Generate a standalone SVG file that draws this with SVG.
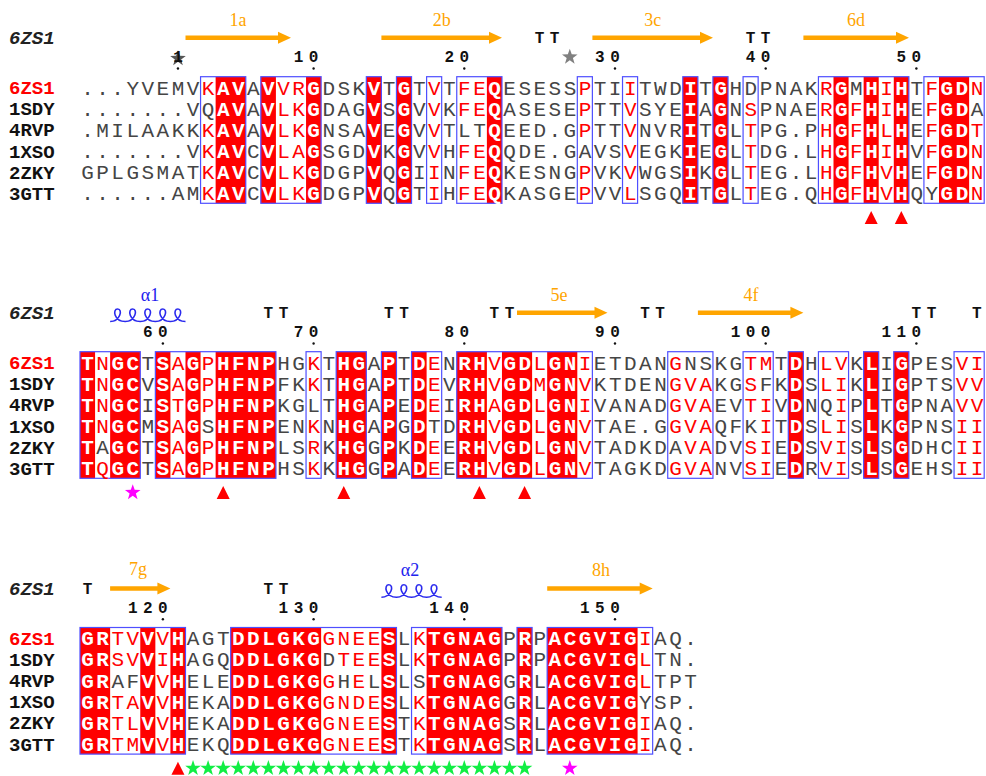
<svg xmlns="http://www.w3.org/2000/svg" xmlns:xlink="http://www.w3.org/1999/xlink" width="986" height="776" viewBox="0 0 986 776">
<style>
.seq{font-family:'Liberation Mono',monospace;font-size:21px;letter-spacing:2.47px}
.g{fill:#454545}
.r{fill:#ff0000}
.w{fill:#ffffff;font-weight:bold}
.nm{font-family:'Liberation Mono',monospace;font-size:19px;font-weight:bold;fill:#111}
.nm.red{fill:#ff0000}
.top{font-family:'Liberation Mono',monospace;font-size:19px;font-weight:bold;font-style:italic;fill:#222}
.num{font-family:'Liberation Mono',monospace;font-size:16px;font-weight:bold;letter-spacing:5.47px;fill:#111}
.ssl{font-family:'Liberation Serif',serif;font-size:18px;fill:#ffa500;text-anchor:middle}
.hxl{font-family:'Liberation Serif',serif;font-size:18px;fill:#2222ee;text-anchor:middle}
.rf{fill:#ff0000}
.bx{fill:none;stroke:#4f4fff;stroke-width:1.2}
.arr{fill:#ffa500}
.coil{fill:none;stroke:#2a2aee;stroke-width:1.6}
.dot{fill:#111}
</style>
<defs>
<polygon id="star" points="0,-8.2 1.93,-2.65 7.8,-2.53 3.12,1.01 4.82,6.63 0,3.28 -4.82,6.63 -3.12,1.01 -7.8,-2.53 -1.93,-2.65"/>
<polygon id="tri" points="0,-6.5 6.5,6.5 -6.5,6.5"/>
</defs>
<rect width="986" height="776" fill="#ffffff"/>

<g id="block1">
<g id="b1-fill">
<rect class="rf" x="215.63" y="76.7" width="30.14" height="126.6"/>
<rect class="rf" x="260.84" y="76.7" width="15.07" height="126.6"/>
<rect class="rf" x="306.05" y="76.7" width="15.07" height="126.6"/>
<rect class="rf" x="366.33" y="76.7" width="15.07" height="126.6"/>
<rect class="rf" x="396.47" y="76.7" width="15.07" height="126.6"/>
<rect class="rf" x="486.89" y="76.7" width="15.07" height="126.6"/>
<rect class="rf" x="682.8" y="76.7" width="15.07" height="126.6"/>
<rect class="rf" x="712.94" y="76.7" width="15.07" height="126.6"/>
<rect class="rf" x="833.5" y="76.7" width="15.07" height="126.6"/>
<rect class="rf" x="863.64" y="76.7" width="15.07" height="126.6"/>
<rect class="rf" x="893.78" y="76.7" width="15.07" height="126.6"/>
<rect class="rf" x="938.99" y="76.7" width="30.14" height="126.6"/>
</g>
<g id="b1-boxes">
<rect class="bx" x="200.56" y="76.7" width="45.21" height="126.6"/>
<rect class="bx" x="260.84" y="76.7" width="60.28" height="126.6"/>
<rect class="bx" x="366.33" y="76.7" width="15.07" height="126.6"/>
<rect class="bx" x="396.47" y="76.7" width="15.07" height="126.6"/>
<rect class="bx" x="426.61" y="76.7" width="15.07" height="126.6"/>
<rect class="bx" x="456.75" y="76.7" width="45.21" height="126.6"/>
<rect class="bx" x="577.31" y="76.7" width="15.07" height="126.6"/>
<rect class="bx" x="622.52" y="76.7" width="15.07" height="126.6"/>
<rect class="bx" x="682.8" y="76.7" width="15.07" height="126.6"/>
<rect class="bx" x="712.94" y="76.7" width="15.07" height="126.6"/>
<rect class="bx" x="743.08" y="76.7" width="15.07" height="126.6"/>
<rect class="bx" x="818.43" y="76.7" width="90.42" height="126.6"/>
<rect class="bx" x="923.92" y="76.7" width="60.28" height="126.6"/>
</g>
<g id="b1-ss">
<text class="top" x="9" y="44">6ZS1</text>
<polygon class="arr" points="185.5,35.5 278,35.5 278,31.7 291,37.7 278,43.7 278,39.9 185.5,39.9"/>
<text class="ssl" x="238" y="26">1a</text>
<polygon class="arr" points="381.4,35.5 489,35.5 489,31.7 502,37.7 489,43.7 489,39.9 381.4,39.9"/>
<text class="ssl" x="441.7" y="26">2b</text>
<polygon class="arr" points="592.4,35.5 700,35.5 700,31.7 713,37.7 700,43.7 700,39.9 592.4,39.9"/>
<text class="ssl" x="652.7" y="26">3c</text>
<polygon class="arr" points="803.4,35.5 896,35.5 896,31.7 909,37.7 896,43.7 896,39.9 803.4,39.9"/>
<text class="ssl" x="856" y="26">6d</text>
<text class="num" x="534.8" y="43">TT</text>
<text class="num" x="745.8" y="43">TT</text>
</g>
<g id="b1-num">
<use href="#star" x="178" y="58.5" fill="#555555"/>
<use href="#star" x="569.8" y="57" fill="#808080"/>
<text class="num" x="173.2" y="62.3">1</text>
<text class="num" x="293.7" y="62.3">10</text>
<text class="num" x="444.4" y="62.3">20</text>
<text class="num" x="595.1" y="62.3">30</text>
<text class="num" x="745.8" y="62.3">40</text>
<text class="num" x="896.5" y="62.3">50</text>
<circle class="dot" cx="177.96" cy="68.5" r="1.2"/>
<circle class="dot" cx="313.59" cy="68.5" r="1.2"/>
<circle class="dot" cx="464.29" cy="68.5" r="1.2"/>
<circle class="dot" cx="614.99" cy="68.5" r="1.2"/>
<circle class="dot" cx="765.69" cy="68.5" r="1.2"/>
<circle class="dot" cx="916.39" cy="68.5" r="1.2"/>
</g>
<g id="b1-names">
<text class="nm red" x="9" y="94.25">6ZS1</text>
<text class="nm" x="9" y="115.35">1SDY</text>
<text class="nm" x="9" y="136.45">4RVP</text>
<text class="nm" x="9" y="157.55">1XSO</text>
<text class="nm" x="9" y="178.65">2ZKY</text>
<text class="nm" x="9" y="199.75">3GTT</text>
</g>
<g id="b1-seq">
<text class="seq g" x="81.23" y="94.6">...YVEMV<tspan class="r">K</tspan><tspan class="w">AV</tspan>A<tspan class="w">V</tspan><tspan class="r">VR</tspan><tspan class="w">G</tspan>DSK<tspan class="w">V</tspan>T<tspan class="w">G</tspan>T<tspan class="r">V</tspan>T<tspan class="r">FE</tspan><tspan class="w">Q</tspan>ESESS<tspan class="r">P</tspan>TI<tspan class="r">I</tspan>TWD<tspan class="w">I</tspan>T<tspan class="w">G</tspan>HDPNAK<tspan class="r">R</tspan><tspan class="w">G</tspan>M<tspan class="w">H</tspan><tspan class="r">I</tspan><tspan class="w">H</tspan>T<tspan class="r">F</tspan><tspan class="w">GD</tspan><tspan class="r">N</tspan></text>
<text class="seq g" x="81.23" y="115.7">.......VQ<tspan class="w">AV</tspan>A<tspan class="w">V</tspan><tspan class="r">LK</tspan><tspan class="w">G</tspan>DAG<tspan class="w">V</tspan>S<tspan class="w">G</tspan>V<tspan class="r">V</tspan>K<tspan class="r">FE</tspan><tspan class="w">Q</tspan>ASESE<tspan class="r">P</tspan>TT<tspan class="r">V</tspan>SYE<tspan class="w">I</tspan>A<tspan class="w">G</tspan>N<tspan class="r">S</tspan>PNAE<tspan class="r">R</tspan><tspan class="w">G</tspan><tspan class="r">F</tspan><tspan class="w">H</tspan><tspan class="r">I</tspan><tspan class="w">H</tspan>E<tspan class="r">F</tspan><tspan class="w">GD</tspan>A</text>
<text class="seq g" x="81.23" y="136.8">.MILAAKK<tspan class="r">K</tspan><tspan class="w">AV</tspan>A<tspan class="w">V</tspan><tspan class="r">LK</tspan><tspan class="w">G</tspan>NSA<tspan class="w">V</tspan>E<tspan class="w">G</tspan>V<tspan class="r">V</tspan>TLT<tspan class="w">Q</tspan>EED.G<tspan class="r">P</tspan>TT<tspan class="r">V</tspan>NVR<tspan class="w">I</tspan>T<tspan class="w">G</tspan>L<tspan class="r">T</tspan>PG.P<tspan class="r">H</tspan><tspan class="w">G</tspan><tspan class="r">F</tspan><tspan class="w">H</tspan><tspan class="r">L</tspan><tspan class="w">H</tspan>E<tspan class="r">F</tspan><tspan class="w">GD</tspan><tspan class="r">T</tspan></text>
<text class="seq g" x="81.23" y="157.9">.......V<tspan class="r">K</tspan><tspan class="w">AV</tspan>C<tspan class="w">V</tspan><tspan class="r">LA</tspan><tspan class="w">G</tspan>SGD<tspan class="w">V</tspan>K<tspan class="w">G</tspan>V<tspan class="r">V</tspan>H<tspan class="r">FE</tspan><tspan class="w">Q</tspan>QDE.GAVS<tspan class="r">V</tspan>EGK<tspan class="w">I</tspan>E<tspan class="w">G</tspan>L<tspan class="r">T</tspan>DG.L<tspan class="r">H</tspan><tspan class="w">G</tspan><tspan class="r">F</tspan><tspan class="w">H</tspan><tspan class="r">I</tspan><tspan class="w">H</tspan>V<tspan class="r">F</tspan><tspan class="w">GD</tspan><tspan class="r">N</tspan></text>
<text class="seq g" x="81.23" y="179">GPLGSMAT<tspan class="r">K</tspan><tspan class="w">AV</tspan>C<tspan class="w">V</tspan><tspan class="r">LK</tspan><tspan class="w">G</tspan>DGP<tspan class="w">V</tspan>Q<tspan class="w">G</tspan>I<tspan class="r">I</tspan>N<tspan class="r">FE</tspan><tspan class="w">Q</tspan>KESNG<tspan class="r">P</tspan>VK<tspan class="r">V</tspan>WGS<tspan class="w">I</tspan>K<tspan class="w">G</tspan>L<tspan class="r">T</tspan>EG.L<tspan class="r">H</tspan><tspan class="w">G</tspan><tspan class="r">F</tspan><tspan class="w">H</tspan><tspan class="r">V</tspan><tspan class="w">H</tspan>E<tspan class="r">F</tspan><tspan class="w">GD</tspan><tspan class="r">N</tspan></text>
<text class="seq g" x="81.23" y="200.1">......AM<tspan class="r">K</tspan><tspan class="w">AV</tspan>C<tspan class="w">V</tspan><tspan class="r">LK</tspan><tspan class="w">G</tspan>DGP<tspan class="w">V</tspan>Q<tspan class="w">G</tspan>T<tspan class="r">I</tspan>H<tspan class="r">FE</tspan><tspan class="w">Q</tspan>KASGE<tspan class="r">P</tspan>VV<tspan class="r">L</tspan>SGQ<tspan class="w">I</tspan>T<tspan class="w">G</tspan>L<tspan class="r">T</tspan>EG.Q<tspan class="r">H</tspan><tspan class="w">G</tspan><tspan class="r">F</tspan><tspan class="w">H</tspan><tspan class="r">V</tspan><tspan class="w">H</tspan>QY<tspan class="w">GD</tspan><tspan class="r">N</tspan></text>
</g>
<g id="b1-marks">
<use href="#tri" x="871.18" y="217.5" fill="#ff0000"/>
<use href="#tri" x="901.32" y="217.5" fill="#ff0000"/>
</g>
</g>

<g id="block2" transform="translate(0,275)">
<g id="b2-fill">
<rect class="rf" x="80" y="76.7" width="15.07" height="126.6"/>
<rect class="rf" x="110.14" y="76.7" width="30.14" height="126.6"/>
<rect class="rf" x="155.35" y="76.7" width="15.07" height="126.6"/>
<rect class="rf" x="185.49" y="76.7" width="15.07" height="126.6"/>
<rect class="rf" x="215.63" y="76.7" width="60.28" height="126.6"/>
<rect class="rf" x="336.19" y="76.7" width="30.14" height="126.6"/>
<rect class="rf" x="381.4" y="76.7" width="15.07" height="126.6"/>
<rect class="rf" x="411.54" y="76.7" width="15.07" height="126.6"/>
<rect class="rf" x="456.75" y="76.7" width="30.14" height="126.6"/>
<rect class="rf" x="501.96" y="76.7" width="30.14" height="126.6"/>
<rect class="rf" x="547.17" y="76.7" width="30.14" height="126.6"/>
<rect class="rf" x="788.29" y="76.7" width="15.07" height="126.6"/>
<rect class="rf" x="863.64" y="76.7" width="15.07" height="126.6"/>
<rect class="rf" x="893.78" y="76.7" width="15.07" height="126.6"/>
</g>
<g id="b2-boxes">
<rect class="bx" x="80" y="76.7" width="60.28" height="126.6"/>
<rect class="bx" x="155.35" y="76.7" width="120.56" height="126.6"/>
<rect class="bx" x="306.05" y="76.7" width="15.07" height="126.6"/>
<rect class="bx" x="336.19" y="76.7" width="30.14" height="126.6"/>
<rect class="bx" x="381.4" y="76.7" width="15.07" height="126.6"/>
<rect class="bx" x="411.54" y="76.7" width="30.14" height="126.6"/>
<rect class="bx" x="456.75" y="76.7" width="135.63" height="126.6"/>
<rect class="bx" x="667.73" y="76.7" width="45.21" height="126.6"/>
<rect class="bx" x="743.08" y="76.7" width="30.14" height="126.6"/>
<rect class="bx" x="788.29" y="76.7" width="15.07" height="126.6"/>
<rect class="bx" x="818.43" y="76.7" width="30.14" height="126.6"/>
<rect class="bx" x="863.64" y="76.7" width="15.07" height="126.6"/>
<rect class="bx" x="893.78" y="76.7" width="15.07" height="126.6"/>
<rect class="bx" x="954.06" y="76.7" width="30.14" height="126.6"/>
</g>
<g id="b2-ss">
<text class="top" x="9" y="44">6ZS1</text>
<text class="hxl" x="150" y="26">α1</text>
<path class="coil" d="M110.14,46.5 C120.14,46.5 123.14,34 117.64,34 C112.14,34 114.14,46.5 125.21,46.5 C135.21,46.5 138.21,34 132.71,34 C127.21,34 129.21,46.5 140.28,46.5 C150.28,46.5 153.28,34 147.78,34 C142.28,34 144.28,46.5 155.35,46.5 C165.35,46.5 168.35,34 162.85,34 C157.35,34 159.35,46.5 170.42,46.5 C180.42,46.5 183.42,34 177.92,34 C172.42,34 174.42,46.5 185.49,46.5"/>
<text class="num" x="263.6" y="43">TT</text>
<text class="num" x="384.1" y="43">TT</text>
<text class="num" x="489.6" y="43">TT</text>
<polygon class="arr" points="517,35.5 594.5,35.5 594.5,31.7 607.5,37.7 594.5,43.7 594.5,39.9 517,39.9"/>
<text class="ssl" x="559" y="26">5e</text>
<text class="num" x="640.3" y="43">TT</text>
<polygon class="arr" points="697.9,35.5 790.4,35.5 790.4,31.7 803.4,37.7 790.4,43.7 790.4,39.9 697.9,39.9"/>
<text class="ssl" x="751" y="26">4f</text>
<text class="num" x="911.6" y="43">TT</text>
<text class="num" x="971.9" y="43">T</text>
</g>
<g id="b2-num">
<text class="num" x="143" y="62.3">60</text>
<text class="num" x="293.7" y="62.3">70</text>
<text class="num" x="444.4" y="62.3">80</text>
<text class="num" x="595.1" y="62.3">90</text>
<text class="num" x="730.7" y="62.3">100</text>
<text class="num" x="881.4" y="62.3">110</text>
<circle class="dot" cx="162.89" cy="68.5" r="1.2"/>
<circle class="dot" cx="313.59" cy="68.5" r="1.2"/>
<circle class="dot" cx="464.29" cy="68.5" r="1.2"/>
<circle class="dot" cx="614.99" cy="68.5" r="1.2"/>
<circle class="dot" cx="765.69" cy="68.5" r="1.2"/>
<circle class="dot" cx="916.39" cy="68.5" r="1.2"/>
</g>
<g id="b2-names">
<text class="nm red" x="9" y="94.25">6ZS1</text>
<text class="nm" x="9" y="115.35">1SDY</text>
<text class="nm" x="9" y="136.45">4RVP</text>
<text class="nm" x="9" y="157.55">1XSO</text>
<text class="nm" x="9" y="178.65">2ZKY</text>
<text class="nm" x="9" y="199.75">3GTT</text>
</g>
<g id="b2-seq">
<text class="seq g" x="81.23" y="94.6"><tspan class="w">T</tspan><tspan class="r">N</tspan><tspan class="w">GC</tspan>T<tspan class="w">S</tspan><tspan class="r">A</tspan><tspan class="w">G</tspan><tspan class="r">P</tspan><tspan class="w">HFNP</tspan>HG<tspan class="r">K</tspan>T<tspan class="w">HG</tspan>A<tspan class="w">P</tspan>T<tspan class="w">D</tspan><tspan class="r">E</tspan>N<tspan class="w">RH</tspan><tspan class="r">V</tspan><tspan class="w">GD</tspan><tspan class="r">L</tspan><tspan class="w">GN</tspan><tspan class="r">I</tspan>ETDAN<tspan class="r">G</tspan>NSKG<tspan class="r">TM</tspan>T<tspan class="w">D</tspan>H<tspan class="r">LV</tspan>K<tspan class="w">L</tspan>I<tspan class="w">G</tspan>PES<tspan class="r">VI</tspan></text>
<text class="seq g" x="81.23" y="115.7"><tspan class="w">T</tspan><tspan class="r">N</tspan><tspan class="w">GC</tspan>V<tspan class="w">S</tspan><tspan class="r">A</tspan><tspan class="w">G</tspan><tspan class="r">P</tspan><tspan class="w">HFNP</tspan>FK<tspan class="r">K</tspan>T<tspan class="w">HG</tspan>A<tspan class="w">P</tspan>T<tspan class="w">D</tspan><tspan class="r">E</tspan>V<tspan class="w">RH</tspan><tspan class="r">V</tspan><tspan class="w">GD</tspan><tspan class="r">M</tspan><tspan class="w">GN</tspan><tspan class="r">V</tspan>KTDEN<tspan class="r">GVA</tspan>KG<tspan class="r">S</tspan>FK<tspan class="w">D</tspan>S<tspan class="r">LI</tspan>K<tspan class="w">L</tspan>I<tspan class="w">G</tspan>PTS<tspan class="r">VV</tspan></text>
<text class="seq g" x="81.23" y="136.8"><tspan class="w">T</tspan><tspan class="r">N</tspan><tspan class="w">GC</tspan>I<tspan class="w">S</tspan><tspan class="r">T</tspan><tspan class="w">G</tspan><tspan class="r">P</tspan><tspan class="w">HFNP</tspan>KGLT<tspan class="w">HG</tspan>A<tspan class="w">P</tspan>E<tspan class="w">D</tspan><tspan class="r">E</tspan>I<tspan class="w">RH</tspan><tspan class="r">A</tspan><tspan class="w">GD</tspan><tspan class="r">L</tspan><tspan class="w">GN</tspan><tspan class="r">I</tspan>VANAD<tspan class="r">GVA</tspan>EV<tspan class="r">TI</tspan>V<tspan class="w">D</tspan>NQ<tspan class="r">I</tspan>P<tspan class="w">L</tspan>T<tspan class="w">G</tspan>PNA<tspan class="r">VV</tspan></text>
<text class="seq g" x="81.23" y="157.9"><tspan class="w">T</tspan><tspan class="r">N</tspan><tspan class="w">GC</tspan>M<tspan class="w">S</tspan><tspan class="r">A</tspan><tspan class="w">G</tspan>S<tspan class="w">HFNP</tspan>EN<tspan class="r">K</tspan>N<tspan class="w">HG</tspan>A<tspan class="w">P</tspan>G<tspan class="w">D</tspan>TD<tspan class="w">RH</tspan><tspan class="r">V</tspan><tspan class="w">GD</tspan><tspan class="r">L</tspan><tspan class="w">GN</tspan><tspan class="r">V</tspan>TAE.G<tspan class="r">GVA</tspan>QFK<tspan class="r">I</tspan>T<tspan class="w">D</tspan>S<tspan class="r">LI</tspan>S<tspan class="w">L</tspan>K<tspan class="w">G</tspan>PNS<tspan class="r">II</tspan></text>
<text class="seq g" x="81.23" y="179"><tspan class="w">T</tspan>A<tspan class="w">GC</tspan>T<tspan class="w">S</tspan><tspan class="r">A</tspan><tspan class="w">G</tspan><tspan class="r">P</tspan><tspan class="w">HFNP</tspan>LS<tspan class="r">R</tspan>K<tspan class="w">HG</tspan>G<tspan class="w">P</tspan>K<tspan class="w">D</tspan><tspan class="r">E</tspan>E<tspan class="w">RH</tspan><tspan class="r">V</tspan><tspan class="w">GD</tspan><tspan class="r">L</tspan><tspan class="w">GN</tspan><tspan class="r">V</tspan>TADKDA<tspan class="r">VA</tspan>DV<tspan class="r">SI</tspan>E<tspan class="w">D</tspan>S<tspan class="r">VI</tspan>S<tspan class="w">L</tspan>S<tspan class="w">G</tspan>DHC<tspan class="r">II</tspan></text>
<text class="seq g" x="81.23" y="200.1"><tspan class="w">T</tspan><tspan class="r">Q</tspan><tspan class="w">GC</tspan>T<tspan class="w">S</tspan><tspan class="r">A</tspan><tspan class="w">G</tspan><tspan class="r">P</tspan><tspan class="w">HFNP</tspan>HS<tspan class="r">K</tspan>K<tspan class="w">HG</tspan>G<tspan class="w">P</tspan>A<tspan class="w">D</tspan><tspan class="r">E</tspan>E<tspan class="w">RH</tspan><tspan class="r">V</tspan><tspan class="w">GD</tspan><tspan class="r">L</tspan><tspan class="w">GN</tspan><tspan class="r">V</tspan>TAGKD<tspan class="r">GVA</tspan>NV<tspan class="r">SI</tspan>E<tspan class="w">D</tspan>R<tspan class="r">VI</tspan>S<tspan class="w">L</tspan>S<tspan class="w">G</tspan>EHS<tspan class="r">II</tspan></text>
</g>
<g id="b2-marks">
<use href="#star" x="132.74" y="217.5" fill="#ff00ff"/>
<use href="#tri" x="223.17" y="217.5" fill="#ff0000"/>
<use href="#tri" x="343.73" y="217.5" fill="#ff0000"/>
<use href="#tri" x="479.36" y="217.5" fill="#ff0000"/>
<use href="#tri" x="524.57" y="217.5" fill="#ff0000"/>
</g>
</g>

<g id="block3" transform="translate(0,550.8)">
<g id="b3-fill">
<rect class="rf" x="80" y="76.7" width="30.14" height="126.6"/>
<rect class="rf" x="140.28" y="76.7" width="15.07" height="126.6"/>
<rect class="rf" x="170.42" y="76.7" width="15.07" height="126.6"/>
<rect class="rf" x="230.7" y="76.7" width="90.42" height="126.6"/>
<rect class="rf" x="381.4" y="76.7" width="15.07" height="126.6"/>
<rect class="rf" x="426.61" y="76.7" width="75.35" height="126.6"/>
<rect class="rf" x="517.03" y="76.7" width="15.07" height="126.6"/>
<rect class="rf" x="547.17" y="76.7" width="90.42" height="126.6"/>
</g>
<g id="b3-boxes">
<rect class="bx" x="80" y="76.7" width="105.49" height="126.6"/>
<rect class="bx" x="230.7" y="76.7" width="165.77" height="126.6"/>
<rect class="bx" x="411.54" y="76.7" width="90.42" height="126.6"/>
<rect class="bx" x="517.03" y="76.7" width="15.07" height="126.6"/>
<rect class="bx" x="547.17" y="76.7" width="105.49" height="126.6"/>
</g>
<g id="b3-ss">
<text class="top" x="9" y="44">6ZS1</text>
<text class="num" x="82.7" y="43">T</text>
<polygon class="arr" points="110.1,35.5 157.4,35.5 157.4,31.7 170.4,37.7 157.4,43.7 157.4,39.9 110.1,39.9"/>
<text class="ssl" x="138" y="24">7g</text>
<text class="num" x="263.6" y="43">TT</text>
<text class="hxl" x="410" y="25">α2</text>
<path class="coil" d="M381.4,46.5 C391.4,46.5 394.4,34 388.9,34 C383.4,34 385.4,46.5 396.47,46.5 C406.47,46.5 409.47,34 403.97,34 C398.47,34 400.47,46.5 411.54,46.5 C421.54,46.5 424.54,34 419.04,34 C413.54,34 415.54,46.5 426.61,46.5 C436.61,46.5 439.61,34 434.11,34 C428.61,34 430.61,46.5 441.68,46.5"/>
<polygon class="arr" points="547.2,35.5 639.7,35.5 639.7,31.7 652.7,37.7 639.7,43.7 639.7,39.9 547.2,39.9"/>
<text class="ssl" x="601" y="25">8h</text>
</g>
<g id="b3-num">
<text class="num" x="127.9" y="62.3">120</text>
<text class="num" x="278.6" y="62.3">130</text>
<text class="num" x="429.3" y="62.3">140</text>
<text class="num" x="580" y="62.3">150</text>
<circle class="dot" cx="162.89" cy="68.5" r="1.2"/>
<circle class="dot" cx="313.59" cy="68.5" r="1.2"/>
<circle class="dot" cx="464.29" cy="68.5" r="1.2"/>
<circle class="dot" cx="614.99" cy="68.5" r="1.2"/>
</g>
<g id="b3-names">
<text class="nm red" x="9" y="94.25">6ZS1</text>
<text class="nm" x="9" y="115.35">1SDY</text>
<text class="nm" x="9" y="136.45">4RVP</text>
<text class="nm" x="9" y="157.55">1XSO</text>
<text class="nm" x="9" y="178.65">2ZKY</text>
<text class="nm" x="9" y="199.75">3GTT</text>
</g>
<g id="b3-seq">
<text class="seq g" x="81.23" y="94.6"><tspan class="w">GR</tspan><tspan class="r">TV</tspan><tspan class="w">V</tspan><tspan class="r">V</tspan><tspan class="w">H</tspan>AGT<tspan class="w">DDLGKG</tspan><tspan class="r">GNEE</tspan><tspan class="w">S</tspan>L<tspan class="r">K</tspan><tspan class="w">TGNAG</tspan>P<tspan class="w">R</tspan>P<tspan class="w">ACGVIG</tspan><tspan class="r">I</tspan>AQ.</text>
<text class="seq g" x="81.23" y="115.7"><tspan class="w">GR</tspan><tspan class="r">SV</tspan><tspan class="w">V</tspan><tspan class="r">I</tspan><tspan class="w">H</tspan>AGQ<tspan class="w">DDLGKG</tspan>D<tspan class="r">TEE</tspan><tspan class="w">S</tspan>L<tspan class="r">K</tspan><tspan class="w">TGNAG</tspan>P<tspan class="w">R</tspan>P<tspan class="w">ACGVIG</tspan><tspan class="r">L</tspan>TN.</text>
<text class="seq g" x="81.23" y="136.8"><tspan class="w">GR</tspan>AF<tspan class="w">V</tspan><tspan class="r">V</tspan><tspan class="w">H</tspan>ELE<tspan class="w">DDLGKG</tspan><tspan class="r">G</tspan>H<tspan class="r">E</tspan>L<tspan class="w">S</tspan>LS<tspan class="w">TGNAG</tspan>G<tspan class="w">R</tspan>L<tspan class="w">ACGVIG</tspan><tspan class="r">L</tspan>TPT</text>
<text class="seq g" x="81.23" y="157.9"><tspan class="w">GR</tspan><tspan class="r">TA</tspan><tspan class="w">V</tspan><tspan class="r">V</tspan><tspan class="w">H</tspan>EKA<tspan class="w">DDLGKG</tspan><tspan class="r">GNDE</tspan><tspan class="w">S</tspan>L<tspan class="r">K</tspan><tspan class="w">TGNAG</tspan>G<tspan class="w">R</tspan>L<tspan class="w">ACGVIG</tspan>YSP.</text>
<text class="seq g" x="81.23" y="179"><tspan class="w">GR</tspan><tspan class="r">TL</tspan><tspan class="w">V</tspan><tspan class="r">V</tspan><tspan class="w">H</tspan>EKA<tspan class="w">DDLGKG</tspan><tspan class="r">GNEE</tspan><tspan class="w">S</tspan>T<tspan class="r">K</tspan><tspan class="w">TGNAG</tspan>S<tspan class="w">R</tspan>L<tspan class="w">ACGVIG</tspan><tspan class="r">I</tspan>AQ.</text>
<text class="seq g" x="81.23" y="200.1"><tspan class="w">GR</tspan><tspan class="r">TM</tspan><tspan class="w">V</tspan><tspan class="r">V</tspan><tspan class="w">H</tspan>EKQ<tspan class="w">DDLGKG</tspan><tspan class="r">GNEE</tspan><tspan class="w">S</tspan>T<tspan class="r">K</tspan><tspan class="w">TGNAG</tspan>S<tspan class="w">R</tspan>L<tspan class="w">ACGVIG</tspan><tspan class="r">I</tspan>AQ.</text>
</g>
<g id="b3-marks">
<use href="#tri" x="177.96" y="217.5" fill="#ff0000"/>
<use href="#star" x="193.03" y="217.5" fill="#11ee44"/>
<use href="#star" x="208.1" y="217.5" fill="#11ee44"/>
<use href="#star" x="223.17" y="217.5" fill="#11ee44"/>
<use href="#star" x="238.24" y="217.5" fill="#11ee44"/>
<use href="#star" x="253.31" y="217.5" fill="#11ee44"/>
<use href="#star" x="268.38" y="217.5" fill="#11ee44"/>
<use href="#star" x="283.45" y="217.5" fill="#11ee44"/>
<use href="#star" x="298.52" y="217.5" fill="#11ee44"/>
<use href="#star" x="313.59" y="217.5" fill="#11ee44"/>
<use href="#star" x="328.66" y="217.5" fill="#11ee44"/>
<use href="#star" x="343.73" y="217.5" fill="#11ee44"/>
<use href="#star" x="358.8" y="217.5" fill="#11ee44"/>
<use href="#star" x="373.87" y="217.5" fill="#11ee44"/>
<use href="#star" x="388.94" y="217.5" fill="#11ee44"/>
<use href="#star" x="404.01" y="217.5" fill="#11ee44"/>
<use href="#star" x="419.08" y="217.5" fill="#11ee44"/>
<use href="#star" x="434.15" y="217.5" fill="#11ee44"/>
<use href="#star" x="449.22" y="217.5" fill="#11ee44"/>
<use href="#star" x="464.29" y="217.5" fill="#11ee44"/>
<use href="#star" x="479.36" y="217.5" fill="#11ee44"/>
<use href="#star" x="494.43" y="217.5" fill="#11ee44"/>
<use href="#star" x="509.5" y="217.5" fill="#11ee44"/>
<use href="#star" x="524.57" y="217.5" fill="#11ee44"/>
<use href="#star" x="569.78" y="217.5" fill="#ff00ff"/>
</g>
</g>
</svg>
